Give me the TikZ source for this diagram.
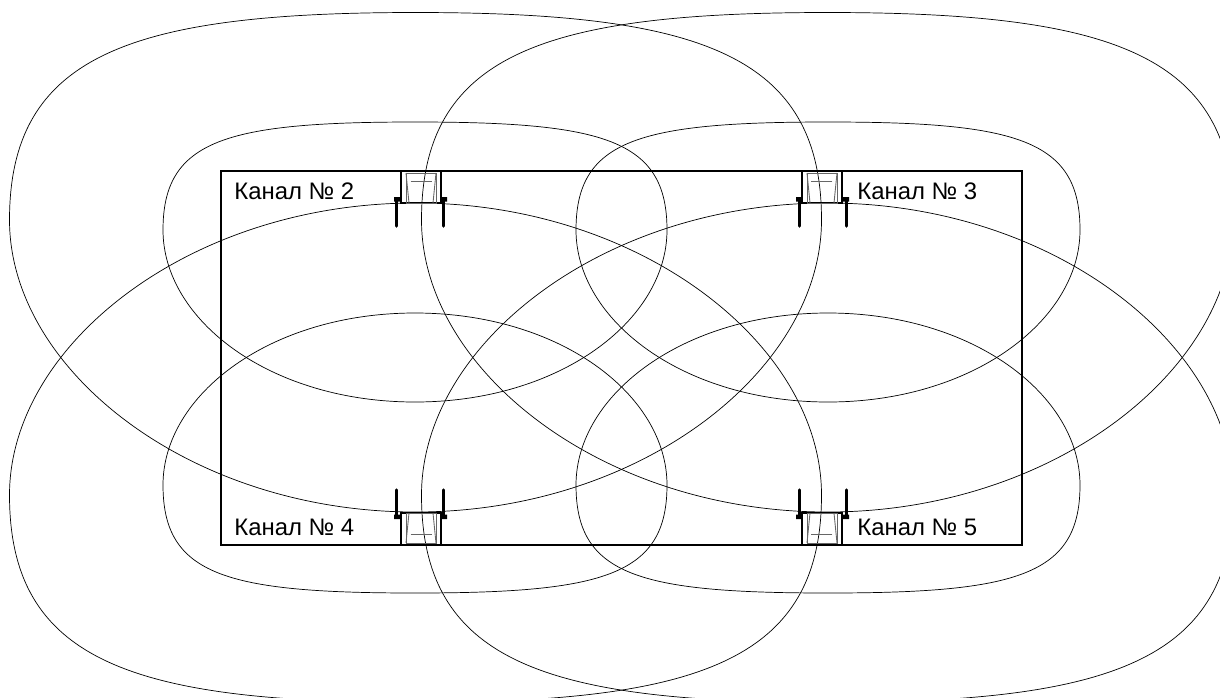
\documentclass[tikz,border=0pt]{standalone}
\usepackage{fontspec}
\setmainfont{Liberation Sans}
\newcommand{\biglobe}{(9.5,220) .. controls (9.5,55) and (130,12.5) .. (415.5,12.5) .. controls (701,12.5) and (821.5,55) .. (821.5,220) .. controls (821.5,370) and (641,512) .. (415.5,512) .. controls (190,512) and (9.5,370) .. (9.5,220) -- cycle}
\newcommand{\smalllobe}{(163,230) .. controls (163,140) and (225,122) .. (415,122) .. controls (605,122) and (667,140) .. (667,230) .. controls (667,320) and (560,402) .. (415,402) .. controls (270,402) and (163,320) .. (163,230) -- cycle}
\begin{document}
\begin{tikzpicture}[x=0.02cm, y=-0.02cm]
      \tikzstyle{every node}=[font=\fontsize{13.6}{16}\selectfont, inner sep=0pt, anchor=base west]
      \tikzstyle{lobe}=[line width=.4pt]
      \tikzstyle{wall}=[line width=1.15pt]
      \tikzstyle{inner}=[line width=.5pt, black!60]
      \tikzstyle{bolt}=[line width=2pt, line cap=round]
      \clip (0, 0) rectangle (1220, 697);
      \foreach \tx/\sx in {0/1, 1243/-1}
        \foreach \ty/\sy in {0/1, 715/-1}
          \draw[lobe, shift={(\tx, \ty)}, xscale=\sx, yscale=\sy] \biglobe \smalllobe;
      \draw[wall] (221, 171) rectangle (1021.5, 545);
      \foreach \tx/\sx in {0/1, 1243/-1}
        \foreach \ty/\sy in {0/1, 716/-1} {
          \begin{scope}[shift={(\tx, \ty)}, xscale=\sx, yscale=\sy]
            \draw[wall] (400.7, 171) rectangle (440.7, 203);
            \draw[inner] (406, 173) rectangle (436, 203);
            \draw[inner] (406, 173) -- (409, 203) (436, 173) -- (433, 203);
            \draw[inner] (410.7, 181.7) -- (431.7, 181.7);
            \draw[bolt] (396.7, 199) -- (396.7, 226) (443.3, 199) -- (443.3, 226);
            \fill (394, 197) rectangle (400, 201.5) (441, 197) rectangle (447, 201.5);
          \end{scope}
        }
      \node (chTwo) at (234, 199.5) {Канал № 2};
      \node (chThree) at (857, 199.5) {Канал № 3};
      \node (chFour) at (234, 535.5) {Канал № 4};
      \node (chFive) at (857, 535.5) {Канал № 5};
    \end{tikzpicture}
\end{document}
